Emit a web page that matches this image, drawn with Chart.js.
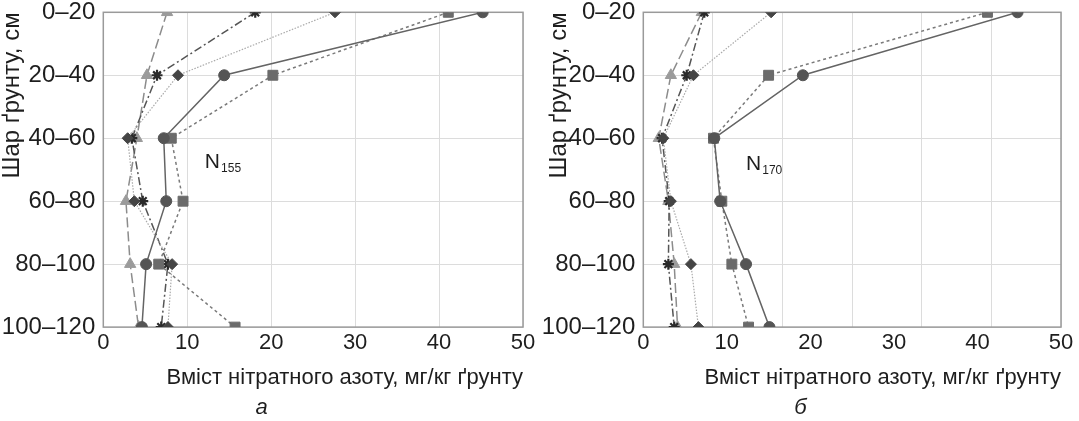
<!DOCTYPE html>
<html>
<head>
<meta charset="utf-8">
<script src="https://cdn.jsdelivr.net/npm/chart.js@4.4.1/dist/chart.umd.min.js"></script>
<style>
  html, body { margin: 0; padding: 0; background: #fff; }
  #wrap { position: relative; width: 1079px; height: 421px; overflow: hidden; }
  .panel { position: absolute; top: 0; height: 421px; }
</style>
</head>
<body>
<div id="wrap">
  <div class="panel" style="left:0;width:540px"><canvas id="chart-a" width="540" height="421"></canvas></div>
  <div class="panel" style="left:540px;width:539px"><canvas id="chart-b" width="539" height="421"></canvas></div>
</div>
<script>
// Soil layers, top to bottom
const DEPTHS = ["0–20", "20–40", "40–60", "60–80", "80–100", "100–120"];

// panel а (N155), mg/kg per layer
const A_CIRCLE = [45.2, 14.4, 7.2, 7.5, 5.1, 4.6];
const A_SQUARE = [41.1, 20.2, 8.1, 9.5, 6.6, 15.7];
const A_DIAMOND = [27.6, 8.9, 2.9, 3.7, 8.2, 7.7];
const A_STAR = [18.1, 6.4, 3.4, 4.7, 7.7, 6.9];
const A_TRIANGLE = [7.6, 5.2, 4.0, 2.7, 3.2, 4.2];

// panel б (N170)
const B_CIRCLE = [44.8, 19.1, 8.5, 9.2, 12.3, 15.1];
const B_SQUARE = [41.2, 15.0, 8.4, 9.4, 10.6, 12.6];
const B_DIAMOND = [15.3, 6.0, 2.4, 3.3, 5.7, 6.6];
const B_STAR = [7.3, 5.2, 2.25, 3.1, 3.0, 3.7];
const B_TRIANGLE = [7.0, 3.3, 1.85, 3.0, 3.7, 4.1];

const FONT = "'Liberation Sans', Arial, sans-serif";
const TEXT = "#1e1e1e";
const GRID = "#dcdcdc";
const FRAME = "#9a9a9a";

// order matches the value arrays: circle, square, diamond, star, triangle
const SERIES_STYLE = [
  { point: "circle", r: 5.5, line: "#646464", fill: "#555", dash: [], width: 1.5 },
  { point: "rect", r: 7, line: "#7a7a7a", fill: "#6b6b6b", dash: [3, 3], width: 1.5 },
  { point: "rectRot", r: 5.5, line: "#aaa", fill: "#454545", dash: [1.5, 1.5], width: 1.2 },
  { point: "star", r: 5.5, line: "#555", fill: "#2a2a2a", dash: [8, 3, 2, 3], width: 1.5 },
  { point: "triangle", r: 6.5, line: "#8c8c8c", fill: "#9b9b9b", dash: [10, 4], width: 1.5 },
];

const FRAME_PLUGIN = {
  id: "frame",
  beforeDatasetsDraw(chart) {
    const { ctx, chartArea: a } = chart;
    ctx.save();
    ctx.strokeStyle = FRAME;
    ctx.lineWidth = 1.5;
    ctx.strokeRect(a.left, a.top, a.right - a.left, a.bottom - a.top);
    ctx.restore();
  },
};

// "N" with subscript dose, placed in data units
const NOTE_PLUGIN = {
  id: "note",
  afterDatasetsDraw(chart, args, opts) {
    const { ctx, scales } = chart;
    const x = scales.x.getPixelForValue(opts.x);
    const y = scales.y.getPixelForValue(opts.y);
    ctx.save();
    ctx.fillStyle = TEXT;
    ctx.textBaseline = "alphabetic";
    ctx.font = `21px ${FONT}`;
    ctx.fillText("N", x, y + 7.5);
    const w = ctx.measureText("N").width;
    ctx.font = `12px ${FONT}`;
    ctx.fillText(opts.sub, x + w + 1, y + 12);
    ctx.restore();
  },
};

const buildDatasets = (series) =>
  series.map((vals, i) => {
    const st = SERIES_STYLE[i];
    const isStar = st.point === "star";
    return {
      data: vals.map((v, k) => ({ x: v, y: DEPTHS[k] })),
      borderColor: st.line,
      borderWidth: st.width,
      borderDash: st.dash,
      pointStyle: st.point,
      pointRadius: st.r,
      pointBackgroundColor: st.fill,
      pointBorderColor: st.fill,
      pointBorderWidth: isStar ? 2.2 : 1,
      tension: 0,
      fill: false,
      clip: 0,
    };
  });

const makeChart = (id, series, { letter, sub, noteX, noteY, yWidth, padRight, titleShift, gridMax }) => {
  const scales = {
    x: {
      type: "linear",
      position: "bottom",
      min: 0,
      max: 50,
      ticks: { stepSize: 10, color: TEXT, font: { family: FONT, size: 22 }, padding: 3 },
      grid: { display: !gridMax, color: GRID, drawTicks: false },
      border: { display: false },
      title: {
        display: true,
        text: "Вміст нітратного азоту, мг/кг ґрунту",
        align: "end",
        color: TEXT,
        font: { family: FONT, size: 22 },
        padding: { top: 0, bottom: 0 },
      },
      afterFit: (s) => {
        s.height = 64;
        s.paddingLeft = 0;
        s.paddingRight = 0;
      },
    },
    y: {
      type: "category",
      labels: DEPTHS,
      offset: false,
      ticks: { color: TEXT, font: { family: FONT, size: 24 }, padding: 8 },
      grid: { color: GRID, drawTicks: false },
      border: { display: false },
      title: {
        display: true,
        text: "Шар ґрунту, см",
        align: "end",
        color: TEXT,
        font: { family: FONT, size: 24 },
        padding: { top: titleShift, bottom: 0 },
      },
      // keep the plot box fixed; labels may hang over the edges
      afterFit: (s) => {
        s.width = yWidth;
        s.paddingTop = 0;
        s.paddingBottom = 0;
      },
    },
  };
  // panel б has its grid drawn at a different spacing than its labels
  if (gridMax) {
    scales.xg = {
      type: "linear",
      position: "bottom",
      min: 0,
      max: gridMax,
      ticks: { display: false, stepSize: 10 },
      grid: { color: GRID, drawTicks: false },
      border: { display: false },
      afterFit: (s) => { s.height = 0; },
    };
  }
  return new Chart(document.getElementById(id), {
    type: "line",
    data: { datasets: buildDatasets(series) },
    options: {
      responsive: false,
      animation: false,
      devicePixelRatio: 1,
      layout: { padding: { top: 12.3, right: padRight, bottom: 0, left: 0 } },
      scales,
      plugins: {
        legend: { display: false },
        tooltip: { enabled: false },
        title: {
          display: true,
          position: "bottom",
          text: letter,
          color: TEXT,
          font: { family: FONT, size: 22, style: "italic", weight: "normal" },
          padding: { top: 3.5, bottom: 0 },
        },
        note: { x: noteX, y: noteY, sub },
      },
    },
    plugins: [FRAME_PLUGIN, NOTE_PLUGIN],
  });
};

makeChart("chart-a", [A_CIRCLE, A_SQUARE, A_DIAMOND, A_STAR, A_TRIANGLE], {
  letter: "а", sub: "155", noteX: 12.1, noteY: 2.35, yWidth: 103.3, padRight: 17, titleShift: -2, gridMax: 0,
});
makeChart("chart-b", [B_CIRCLE, B_SQUARE, B_DIAMOND, B_STAR, B_TRIANGLE], {
  letter: "б", sub: "170", noteX: 12.3, noteY: 2.38, yWidth: 103.3, padRight: 18, titleShift: 5, gridMax: 60,
});
</script>
</body>
</html>
